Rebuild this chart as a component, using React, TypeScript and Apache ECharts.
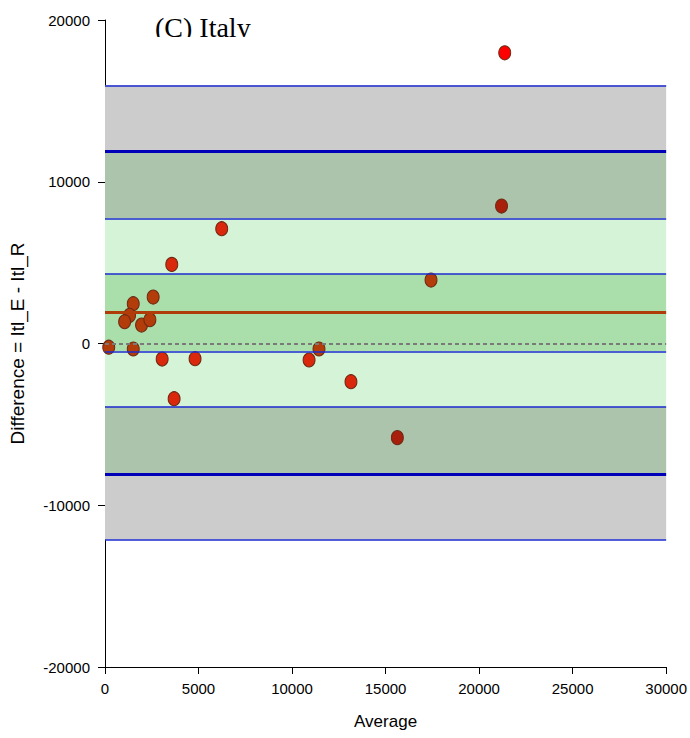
import React, { useEffect, useRef } from "react";
import * as echarts from "echarts";

// Data
const averages = [200, 1510, 3055, 4815, 10910, 11440, 6240, 3570, 2575, 1510, 1315, 1050, 1955, 2400, 13150, 3695, 15630, 21370, 21200, 17430];
const differences = [-230, -340, -960, -940, -1020, -340, 7100, 4890, 2870, 2460, 1740, 1350, 1140, 1470, -2360, -3410, -5820, 17970, 8500, 3920];

const meanDiff = 1940;
const meanCI = [-490, 4310];
const upperLoA = 11870;
const upperLoACI = [7730, 15960];
const lowerLoA = -8060;
const lowerLoACI = [-12130, -3910];

const xTicks = [0, 5000, 10000, 15000, 20000, 25000, 30000];
const yTicks = [-20000, -10000, 0, 10000, 20000];

const titleText = "(C) Italy";
const xName = "Average";
const yName = "Difference = Itl_E - Itl_R";

function pointColor(y: number): string {
  if (y >= meanCI[0] && y <= meanCI[1]) return "#b23c0a";
  if (y > upperLoACI[1] || y < lowerLoACI[0]) return "#ff0000";
  if (y >= upperLoACI[0] || y <= lowerLoACI[1]) return "#a8200c";
  return "#d9280c";
}

export default function App() {
  const ref = useRef<HTMLDivElement>(null);
  useEffect(() => {
    document.body.style.margin = "0";
    const chart = echarts.init(ref.current!, null, { renderer: "svg" });
    const pts = averages.map((x, i) => ({
      value: [x, differences[i]],
      itemStyle: { color: pointColor(differences[i]) },
    }));
    const thin = { color: "#1c2bd0", width: 1.5, type: "solid" };
    const thick = { color: "#0000b8", width: 3, type: "solid" };
    const option: any = {
      animation: false,
      backgroundColor: "#ffffff",
      grid: { left: 104, right: 23, top: 20, bottom: 71, containLabel: false },
      xAxis: {
        type: "value",
        min: xTicks[0],
        max: xTicks[xTicks.length - 1],
        interval: 5000,
        name: xName,
        nameLocation: "middle",
        nameGap: 46,
        nameTextStyle: { fontFamily: "Liberation Sans", fontSize: 17, color: "#000" },
        axisLine: { onZero: false, show: true, lineStyle: { color: "#000", width: 1 } },
        axisTick: { show: true, inside: false, length: 7, lineStyle: { color: "#000" } },
        axisLabel: { fontFamily: "Liberation Sans", fontSize: 15, color: "#000", margin: 14, formatter: (v: number) => String(v) },
        splitLine: { show: false },
      },
      yAxis: {
        type: "value",
        min: yTicks[0],
        max: yTicks[yTicks.length - 1],
        interval: 10000,
        name: yName,
        nameLocation: "middle",
        nameGap: 78,
        nameRotate: 90,
        nameTextStyle: { fontFamily: "Liberation Sans", fontSize: 19, color: "#000" },
        axisLine: { onZero: false, show: true, lineStyle: { color: "#000", width: 1 } },
        axisTick: { show: true, inside: false, length: 7, lineStyle: { color: "#000" } },
        axisLabel: { fontFamily: "Liberation Sans", fontSize: 15, color: "#000", margin: 15, formatter: (v: number) => String(v) },
        splitLine: { show: false },
      },
      series: [
        {
          type: "scatter",
          data: [],
          z: 1,
          silent: true,
          markArea: {
            silent: true,
            label: { show: false },
            data: [
              [{ yAxis: upperLoA, xAxis: 0, itemStyle: { color: "#cccccc" } }, { yAxis: upperLoACI[1], xAxis: 30000 }],
              [{ yAxis: upperLoACI[0], xAxis: 0, itemStyle: { color: "#abc4ab" } }, { yAxis: upperLoA, xAxis: 30000 }],
              [{ yAxis: meanCI[1], xAxis: 0, itemStyle: { color: "#d5f4d7" } }, { yAxis: upperLoACI[0], xAxis: 30000 }],
              [{ yAxis: meanCI[0], xAxis: 0, itemStyle: { color: "#aadeaa" } }, { yAxis: meanCI[1], xAxis: 30000 }],
              [{ yAxis: lowerLoACI[1], xAxis: 0, itemStyle: { color: "#d5f4d7" } }, { yAxis: meanCI[0], xAxis: 30000 }],
              [{ yAxis: lowerLoA, xAxis: 0, itemStyle: { color: "#abc4ab" } }, { yAxis: lowerLoACI[1], xAxis: 30000 }],
              [{ yAxis: lowerLoACI[0], xAxis: 0, itemStyle: { color: "#cccccc" } }, { yAxis: lowerLoA, xAxis: 30000 }],
            ],
          },
        },
        {
          type: "scatter",
          data: [],
          z: 2,
          silent: true,
          markLine: {
            silent: true,
            symbol: ["none", "none"],
            label: { show: false },
            data: [
              { yAxis: upperLoACI[1], lineStyle: thin },
              { yAxis: upperLoA, lineStyle: thick },
              { yAxis: upperLoACI[0], lineStyle: thin },
              { yAxis: meanCI[1], lineStyle: thin },
              { yAxis: meanDiff, lineStyle: { color: "#b03c0a", width: 3, type: "solid" } },
              { yAxis: 0, lineStyle: { color: "#7a7a7a", width: 2, type: [4, 3] } },
              { yAxis: meanCI[0], lineStyle: thin },
              { yAxis: lowerLoACI[1], lineStyle: thin },
              { yAxis: lowerLoA, lineStyle: thick },
              { yAxis: lowerLoACI[0], lineStyle: thin },
            ],
          },
        },
        {
          type: "scatter",
          z: 3,
          symbol: "circle",
          symbolSize: [12, 14],
          itemStyle: { borderColor: "#6e2a14", borderWidth: 1, opacity: 1 },
          data: pts,
        },
      ],
      graphic: [
        {
          type: "text",
          left: 155,
          top: 13,
          z: 10,
          style: { text: titleText, font: "28px 'Liberation Serif'", fill: "#000" },
        },
        {
          type: "rect",
          shape: { x: 140, y: 37, width: 140, height: 14 },
          z: 11,
          style: { fill: "#ffffff" },
        },
      ],
    };
    chart.setOption(option);
    return () => chart.dispose();
  }, []);
  return <div ref={ref} style={{ width: 690, height: 738 }} />;
}
